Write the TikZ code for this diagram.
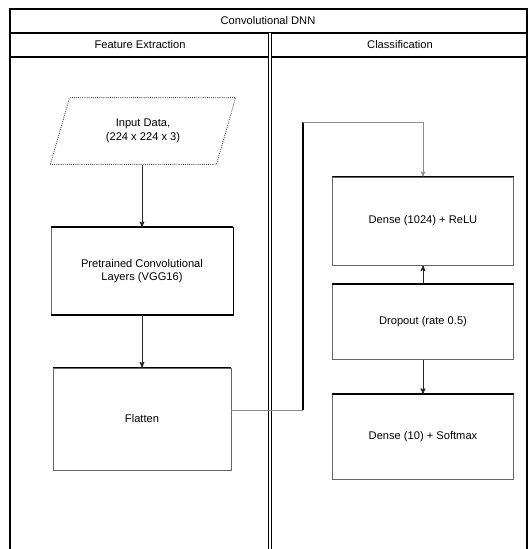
\documentclass[tikz,border=0pt]{standalone}
\usepackage{fontspec}
\setmainfont{Liberation Sans}
\usetikzlibrary{arrows,shapes.geometric,positioning}

\begin{document}
\begin{tikzpicture}
[x=0.03cm,y=-0.03cm,
font=\fontsize{9.5}{11.5}\selectfont,
lane/.style={draw=black,line width=1.5pt},
step box/.style={rectangle,draw=black!60,semithick,fill=white,
align=center,inner sep=2pt},
io box/.style={trapezium,trapezium left angle=70,trapezium right angle=110,
draw=black!70,densely dotted,thick,align=center,inner sep=2pt,
trapezium stretches=true},
rim/.style={line width=1.4pt,draw=black},
flow/.style={->,>=stealth',thick,draw=black!85},
link/.style={draw=black!45,semithick}]

\useasboundingbox (0,0) rectangle (529,549);

% pool and lanes
\draw [lane] (10,549) -- (10,9) -- (527,9) -- (527,549);
\draw [lane] (10,33) -- (527,33);
\draw [lane] (10,57) -- (527,57);
\draw [lane,line width=1.2pt,double,double distance=1.5pt] (270,33) -- (270,549);
\node (title) at (268,21) {Convolutional DNN};
\node (laneA) at (140,45) {Feature Extraction};
\node (laneB) at (400,45) {Classification};

% left lane
\node [io box,minimum width=5.6cm,minimum height=2.0cm] (in) at (143,131)
{Input Data,\\(224 x 224 x 3)};
\node [step box,minimum width=5.46cm,minimum height=2.6cm] (conv) at (142,271)
{Pretrained Convolutional\\Layers (VGG16)};
\node [step box,minimum width=5.34cm,minimum height=3.06cm] (flat) at (142,419)
{Flatten};

% right lane
\node [step box,minimum width=5.43cm,minimum height=2.64cm] (dense) at (423,221)
{Dense (1024) + ReLU};
\node [step box,minimum width=5.43cm,minimum height=2.25cm] (drop) at (423,322)
{Dropout (rate 0.5)};
\node [step box,minimum width=5.43cm,minimum height=2.55cm] (out) at (423,437)
{Dense (10) + Softmax};

% heavy top rims
\foreach \n in {conv,flat,dense,drop,out}
\draw [rim] (\n.north west) -- (\n.north east);
\draw [rim] (conv.south west) -- (conv.south east) -- (conv.north east);

\coordinate (j1) at (303,410);
\coordinate (j2) at (303,122);

\draw [flow] (in.south -| conv.north) -- (conv);
\draw [flow] (conv) -- (flat);
\draw [link] (flat.east |- j1) -- (j1);
\draw [line width=1.6pt] (j1) -- (j2);
\draw [link,->,>=stealth'] (j2) -| (dense.north);
\draw [flow] (drop) -- (dense);
\draw [flow] (drop) -- (out);
\end{tikzpicture}
\end{document}
